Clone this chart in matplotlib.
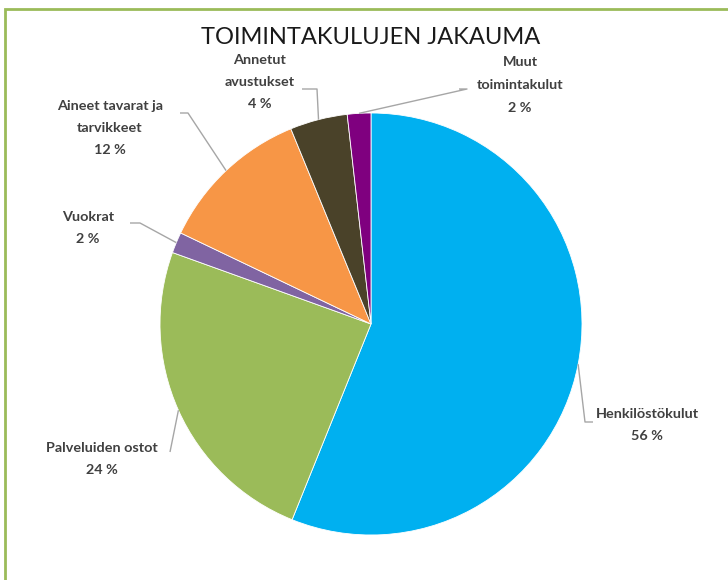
import numpy as np
import matplotlib
matplotlib.use("Agg")
import matplotlib.pyplot as plt
from matplotlib.patches import Rectangle

categories = ["Henkilöstökulut", "Palveluiden ostot", "Vuokrat",
              "Aineet tavarat ja\ntarvikkeet", "Annetut\navustukset", "Muut\ntoimintakulut"]
values = [56.1, 24.4, 1.6, 11.7, 4.4, 1.8]
colors = ["#00B0F0", "#9BBB59", "#8064A2", "#F79646", "#4A4229", "#7F007F"]
title = "TOIMINTAKULUJEN JAKAUMA"

W, H = 728, 580
fig = plt.figure(figsize=(W / 100, H / 100), dpi=100)
ax = fig.add_axes([0, 0, 1, 1])

def Y(py):
    return H - py

cx, cy, R = 371, Y(324), 211
wedges, _ = ax.pie(values, colors=colors, startangle=90, counterclock=False,
                   center=(cx, cy), radius=R, frame=True,
                   wedgeprops=dict(linewidth=0.6, edgecolor="white"))
ax.set_xlim(0, W)
ax.set_ylim(0, H)
ax.set_aspect("equal")
ax.axis("off")

# label layout: (text center x, text center y px, leader polyline from text side)
layout = [
    dict(tx=647, ty=425, path=[(593, 422), (585, 422)]),
    dict(tx=102, ty=459, path=[(170, 452)]),
    dict(tx=88, ty=228, path=[(130, 223), (140, 223)]),
    dict(tx=110, ty=128, path=[(180, 113), (188, 113)]),
    dict(tx=260, ty=82, path=[(302, 89), (317, 89)]),
    dict(tx=520, ty=85, path=[(459, 89), (467, 89)]),
]

font = "Lato"
label_color = "#404040"
for w, cat, v, lay in zip(wedges, categories, values, layout):
    txt = f"{cat}\n{round(v):d} %"
    ax.text(lay["tx"], Y(lay["ty"]), txt, ha="center", va="center",
            fontsize=10.4, fontweight="bold", color=label_color, family=font,
            linespacing=2.05)
    mid = np.deg2rad((w.theta1 + w.theta2) / 2)
    ex, ey = cx + R * np.cos(mid), cy + R * np.sin(mid)
    xs = [p[0] for p in lay["path"]] + [ex]
    ys = [Y(p[1]) for p in lay["path"]] + [ey]
    ax.plot(xs, ys, color="#A6A6A6", lw=1.0, solid_capstyle="butt")

ax.text(371, Y(37), title, ha="center", va="center", fontsize=17,
        color="#1A1A1A", family=font)

# green frame
fig.patches.append(Rectangle((5 / W, -0.1), 1.2, 1 - 9 / H + 0.1,
                             transform=fig.transFigure, fill=False,
                             edgecolor="#9BBB59", lw=2))

fig.savefig("out.png", dpi=100)
